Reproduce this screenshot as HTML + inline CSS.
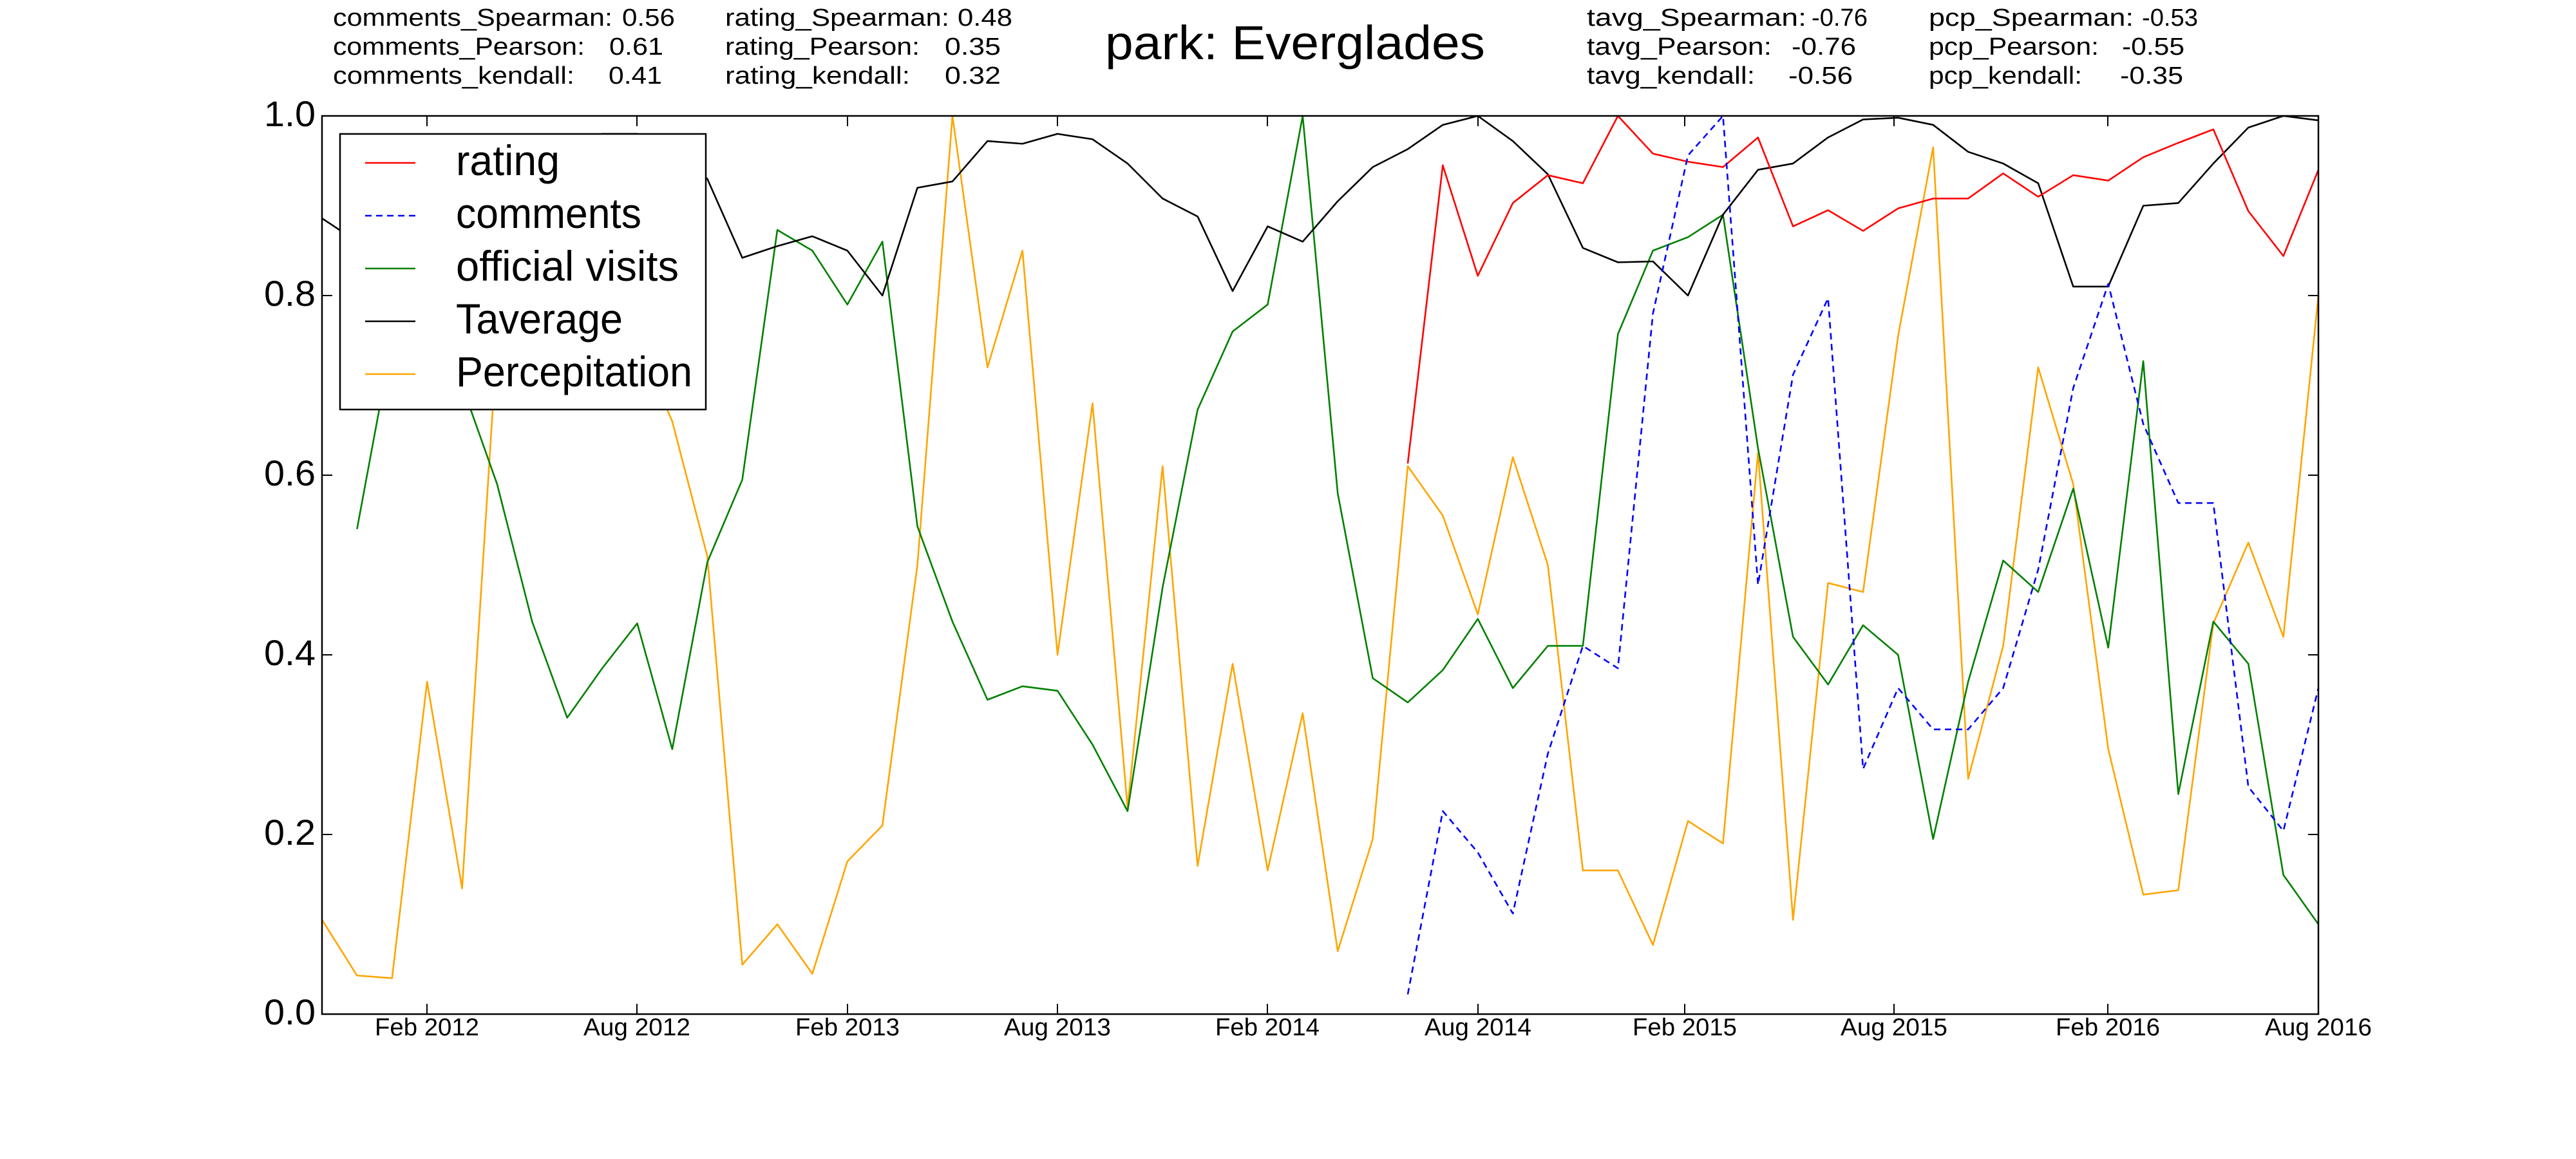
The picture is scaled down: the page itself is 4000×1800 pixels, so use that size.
<!DOCTYPE html>
<html><head><meta charset="utf-8"><style>
html,body{margin:0;padding:0;background:#fff;}
svg{display:block;}
text{font-family:"Liberation Sans",sans-serif;fill:#000;}
</style></head><body>
<svg width="4000" height="1800" viewBox="0 0 4000 1800" xmlns="http://www.w3.org/2000/svg">
<rect width="4000" height="1800" fill="#fff"/>
<g font-size="38">
<text x="517" y="40" textLength="434" lengthAdjust="spacingAndGlyphs">comments_Spearman:</text>
<text x="966" y="40" textLength="82" lengthAdjust="spacingAndGlyphs">0.56</text>
<text x="517" y="85" textLength="391" lengthAdjust="spacingAndGlyphs">comments_Pearson:</text>
<text x="946" y="85" textLength="84" lengthAdjust="spacingAndGlyphs">0.61</text>
<text x="517" y="130" textLength="375" lengthAdjust="spacingAndGlyphs">comments_kendall:</text>
<text x="945" y="130" textLength="83" lengthAdjust="spacingAndGlyphs">0.41</text>

<text x="1126" y="40" textLength="348" lengthAdjust="spacingAndGlyphs">rating_Spearman:</text>
<text x="1487" y="40" textLength="85" lengthAdjust="spacingAndGlyphs">0.48</text>
<text x="1126" y="85" textLength="302" lengthAdjust="spacingAndGlyphs">rating_Pearson:</text>
<text x="1467" y="85" textLength="87" lengthAdjust="spacingAndGlyphs">0.35</text>
<text x="1126" y="130" textLength="287" lengthAdjust="spacingAndGlyphs">rating_kendall:</text>
<text x="1467" y="130" textLength="87" lengthAdjust="spacingAndGlyphs">0.32</text>

<text x="2464" y="40" textLength="341" lengthAdjust="spacingAndGlyphs">tavg_Spearman:</text>
<text x="2813" y="40" textLength="87" lengthAdjust="spacingAndGlyphs">-0.76</text>
<text x="2464" y="85" textLength="287" lengthAdjust="spacingAndGlyphs">tavg_Pearson:</text>
<text x="2782" y="85" textLength="100" lengthAdjust="spacingAndGlyphs">-0.76</text>
<text x="2464" y="130" textLength="261" lengthAdjust="spacingAndGlyphs">tavg_kendall:</text>
<text x="2777" y="130" textLength="100" lengthAdjust="spacingAndGlyphs">-0.56</text>

<text x="2995" y="40" textLength="318" lengthAdjust="spacingAndGlyphs">pcp_Spearman:</text>
<text x="3326" y="40" textLength="87" lengthAdjust="spacingAndGlyphs">-0.53</text>
<text x="2995" y="85" textLength="264" lengthAdjust="spacingAndGlyphs">pcp_Pearson:</text>
<text x="3295" y="85" textLength="97" lengthAdjust="spacingAndGlyphs">-0.55</text>
<text x="2995" y="130" textLength="238" lengthAdjust="spacingAndGlyphs">pcp_kendall:</text>
<text x="3292" y="130" textLength="98" lengthAdjust="spacingAndGlyphs">-0.35</text>
</g>
<text x="1716" y="92" font-size="74" textLength="590" lengthAdjust="spacingAndGlyphs">park: Everglades</text>

<g transform="translate(500,1575) scale(54.386,-1395)" fill="none" stroke-width="2.6" stroke-linejoin="round">
<polyline vector-effect="non-scaling-stroke" stroke="#ffa500" points="0,0.105 1,0.043 2,0.04 3,0.37 4,0.14 5,0.75 6,0.85 7,0.9 8,0.8 9,0.75 10,0.66 11,0.51 12,0.055 13,0.10 14,0.045 15,0.17 16,0.21 17,0.5 18,1.0 19,0.72 20,0.85 21,0.40 22,0.68 23,0.23 24,0.61 25,0.165 26,0.39 27,0.16 28,0.335 29,0.07 30,0.195 31,0.61 32,0.555 33,0.445 34,0.62 35,0.50 36,0.16 37,0.16 38,0.077 39,0.215 40,0.19 41,0.625 42,0.105 43,0.48 44,0.47 45,0.755 46,0.965 47,0.262 48,0.41 49,0.72 50,0.59 51,0.295 52,0.133 53,0.138 54,0.435 55,0.525 56,0.42 57,0.80"/>
<polyline vector-effect="non-scaling-stroke" stroke="#008000" points="1,0.54 2,0.75 3,0.85 4,0.7 5,0.59 6,0.437 7,0.33 8,0.385 9,0.435 10,0.295 11,0.503 12,0.595 13,0.873 14,0.85 15,0.79 16,0.86 17,0.543 18,0.437 19,0.35 20,0.365 21,0.36 22,0.30 23,0.226 24,0.475 25,0.673 26,0.76 27,0.79 28,1.0 29,0.58 30,0.374 31,0.347 32,0.383 33,0.44 34,0.363 35,0.41 36,0.41 37,0.757 38,0.85 39,0.865 40,0.89 41,0.63 42,0.42 43,0.367 44,0.433 45,0.40 46,0.195 47,0.37 48,0.505 49,0.47 50,0.585 51,0.408 52,0.727 53,0.245 54,0.437 55,0.39 56,0.155 57,0.10"/>
<polyline vector-effect="non-scaling-stroke" stroke="#000" points="0,0.886 1,0.86 2,0.83 3,0.82 4,0.85 5,0.9 6,0.94 7,0.97 8,0.98 9,0.98 10,0.96 11,0.93 12,0.842 13,0.855 14,0.866 15,0.85 16,0.80 17,0.92 18,0.927 19,0.972 20,0.969 21,0.98 22,0.974 23,0.947 24,0.908 25,0.888 26,0.805 27,0.877 28,0.86 29,0.905 30,0.943 31,0.963 32,0.99 33,1.0 34,0.972 35,0.935 36,0.853 37,0.837 38,0.838 39,0.80 40,0.89 41,0.94 42,0.947 43,0.976 44,0.996 45,0.998 46,0.99 47,0.96 48,0.947 49,0.925 50,0.81 51,0.81 52,0.90 53,0.903 54,0.947 55,0.987 56,1.0 57,0.995"/>
<polyline vector-effect="non-scaling-stroke" stroke="#ff0000" points="31,0.613 32,0.945 33,0.822 34,0.903 35,0.934 36,0.925 37,1.0 38,0.958 39,0.949 40,0.943 41,0.976 42,0.877 43,0.895 44,0.872 45,0.897 46,0.908 47,0.908 48,0.936 49,0.91 50,0.934 51,0.928 52,0.954 53,0.97 54,0.985 55,0.894 56,0.844 57,0.94"/>
<polyline vector-effect="non-scaling-stroke" stroke="#0000ff" stroke-dasharray="10,7" points="31,0.022 32,0.226 33,0.18 34,0.112 35,0.29 36,0.41 37,0.385 38,0.78 39,0.956 40,1.0 41,0.478 42,0.712 43,0.797 44,0.273 45,0.363 46,0.317 47,0.317 48,0.363 49,0.495 50,0.697 51,0.813 52,0.657 53,0.569 54,0.569 55,0.253 56,0.204 57,0.363"/>
</g>

<rect x="500" y="180" width="3100" height="1395" fill="none" stroke="#000" stroke-width="2.5"/>
<g stroke="#000" stroke-width="2">
<line x1="500" y1="1575" x2="516" y2="1575"/><line x1="3600" y1="1575" x2="3584" y2="1575"/>
<line x1="500" y1="1296" x2="516" y2="1296"/><line x1="3600" y1="1296" x2="3584" y2="1296"/>
<line x1="500" y1="1017" x2="516" y2="1017"/><line x1="3600" y1="1017" x2="3584" y2="1017"/>
<line x1="500" y1="738" x2="516" y2="738"/><line x1="3600" y1="738" x2="3584" y2="738"/>
<line x1="500" y1="459" x2="516" y2="459"/><line x1="3600" y1="459" x2="3584" y2="459"/>
<line x1="500" y1="180" x2="516" y2="180"/><line x1="3600" y1="180" x2="3584" y2="180"/>
<line x1="663" y1="1575" x2="663" y2="1559"/><line x1="663" y1="180" x2="663" y2="196"/>
<line x1="989" y1="1575" x2="989" y2="1559"/><line x1="989" y1="180" x2="989" y2="196"/>
<line x1="1316" y1="1575" x2="1316" y2="1559"/><line x1="1316" y1="180" x2="1316" y2="196"/>
<line x1="1642" y1="1575" x2="1642" y2="1559"/><line x1="1642" y1="180" x2="1642" y2="196"/>
<line x1="1968" y1="1575" x2="1968" y2="1559"/><line x1="1968" y1="180" x2="1968" y2="196"/>
<line x1="2295" y1="1575" x2="2295" y2="1559"/><line x1="2295" y1="180" x2="2295" y2="196"/>
<line x1="2616" y1="1575" x2="2616" y2="1559"/><line x1="2616" y1="180" x2="2616" y2="196"/>
<line x1="2941" y1="1575" x2="2941" y2="1559"/><line x1="2941" y1="180" x2="2941" y2="196"/>
<line x1="3273" y1="1575" x2="3273" y2="1559"/><line x1="3273" y1="180" x2="3273" y2="196"/>
</g>
<g font-size="56">
<text x="410" y="196" textLength="80" lengthAdjust="spacingAndGlyphs">1.0</text>
<text x="410" y="475" textLength="80" lengthAdjust="spacingAndGlyphs">0.8</text>
<text x="410" y="754" textLength="80" lengthAdjust="spacingAndGlyphs">0.6</text>
<text x="410" y="1033" textLength="80" lengthAdjust="spacingAndGlyphs">0.4</text>
<text x="410" y="1312" textLength="80" lengthAdjust="spacingAndGlyphs">0.2</text>
<text x="410" y="1591" textLength="80" lengthAdjust="spacingAndGlyphs">0.0</text>
</g>
<g font-size="38">
<text x="582" y="1608" textLength="162" lengthAdjust="spacingAndGlyphs">Feb 2012</text>
<text x="906" y="1608" textLength="166" lengthAdjust="spacingAndGlyphs">Aug 2012</text>
<text x="1235" y="1608" textLength="162" lengthAdjust="spacingAndGlyphs">Feb 2013</text>
<text x="1559" y="1608" textLength="166" lengthAdjust="spacingAndGlyphs">Aug 2013</text>
<text x="1887" y="1608" textLength="162" lengthAdjust="spacingAndGlyphs">Feb 2014</text>
<text x="2212" y="1608" textLength="166" lengthAdjust="spacingAndGlyphs">Aug 2014</text>
<text x="2535" y="1608" textLength="162" lengthAdjust="spacingAndGlyphs">Feb 2015</text>
<text x="2858" y="1608" textLength="166" lengthAdjust="spacingAndGlyphs">Aug 2015</text>
<text x="3192" y="1608" textLength="162" lengthAdjust="spacingAndGlyphs">Feb 2016</text>
<text x="3517" y="1608" textLength="166" lengthAdjust="spacingAndGlyphs">Aug 2016</text>
</g>
<rect x="528" y="208" width="568" height="428" fill="#fff" stroke="#000" stroke-width="2.5"/>
<g stroke-width="2.6">
<line x1="567" y1="253" x2="645" y2="253" stroke="#ff0000"/>
<line x1="567" y1="335" x2="645" y2="335" stroke="#0000ff" stroke-dasharray="10,7"/>
<line x1="567" y1="417" x2="645" y2="417" stroke="#008000"/>
<line x1="567" y1="499" x2="645" y2="499" stroke="#000"/>
<line x1="567" y1="581" x2="645" y2="581" stroke="#ffa500"/>
</g>
<g font-size="66">
<text x="708" y="272" textLength="161" lengthAdjust="spacingAndGlyphs">rating</text>
<text x="708" y="354" textLength="288" lengthAdjust="spacingAndGlyphs">comments</text>
<text x="708" y="436" textLength="346" lengthAdjust="spacingAndGlyphs">official visits</text>
<text x="708" y="518" textLength="259" lengthAdjust="spacingAndGlyphs">Taverage</text>
<text x="708" y="600" textLength="367" lengthAdjust="spacingAndGlyphs">Percepitation</text>
</g>
</svg>
</body></html>
